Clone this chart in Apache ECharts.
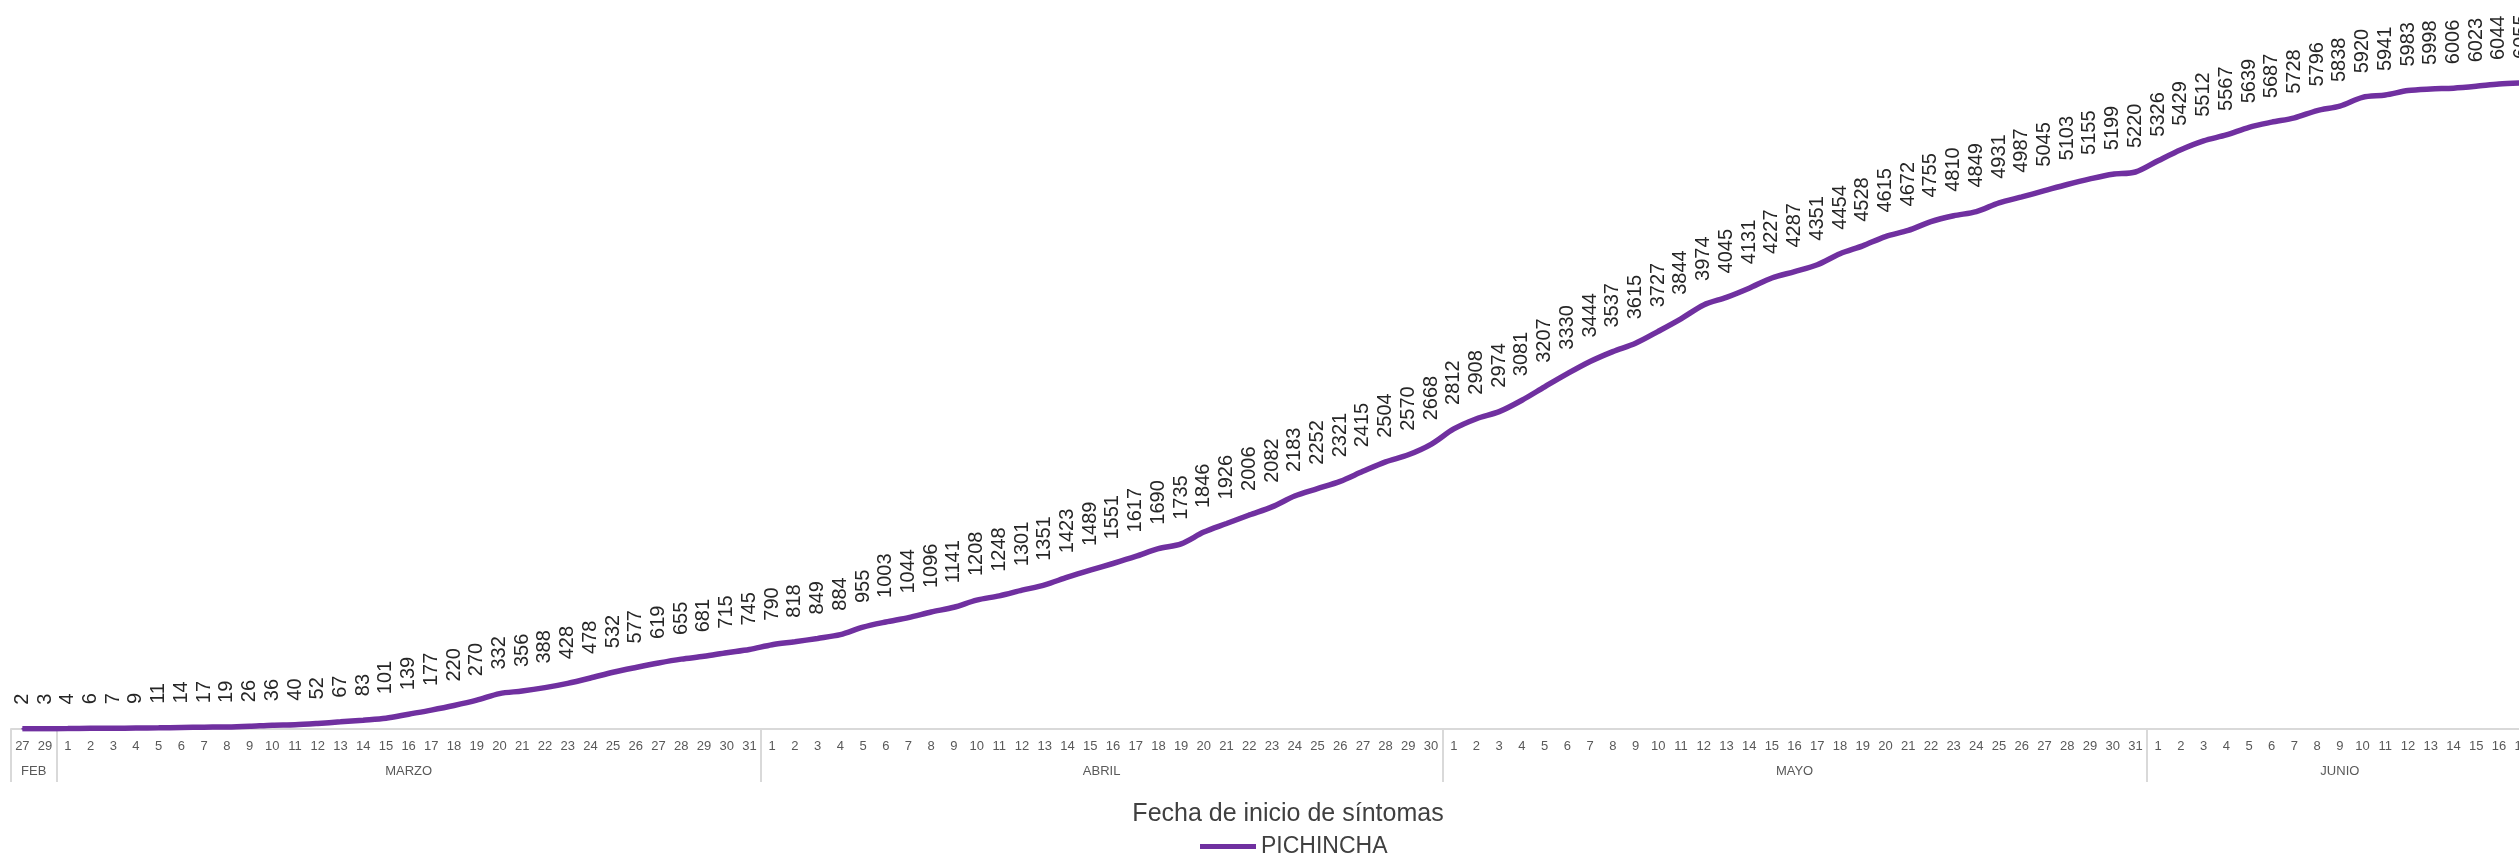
<!DOCTYPE html>
<html>
<head>
<meta charset="utf-8">
<script src="https://cdn.jsdelivr.net/npm/echarts@6/dist/echarts.min.js"></script>
<style>
  html, body { margin: 0; padding: 0; background: #fff; overflow: hidden; }
  #chart { width: 2519px; height: 856px; }
</style>
</head>
<body>
<div id="chart"></div>
<script>
// dias (etiquetas del eje) por mes
var meses = ['FEB', 'MARZO', 'ABRIL', 'MAYO', 'JUNIO'];
var diasFeb = ['27', '29'];
var diasMarzo = ['1','2','3','4','5','6','7','8','9','10','11','12','13','14','15','16','17','18','19','20','21','22','23','24','25','26','27','28','29','30','31'];
var diasAbril = ['1','2','3','4','5','6','7','8','9','10','11','12','13','14','15','16','17','18','19','20','21','22','23','24','25','26','27','28','29','30'];
var diasMayo = ['1','2','3','4','5','6','7','8','9','10','11','12','13','14','15','16','17','18','19','20','21','22','23','24','25','26','27','28','29','30','31'];
var diasJunio = ['1','2','3','4','5','6','7','8','9','10','11','12','13','14','15','16','17'];

// casos acumulados PICHINCHA
var casosFeb = [2, 3];
var casosMarzo = [4, 6, 7, 9, 11, 14, 17, 19, 26, 36, 40, 52, 67, 83, 101, 139, 177, 220, 270, 332, 356, 388, 428, 478, 532, 577, 619, 655, 681, 715, 745];
var casosAbril = [790, 818, 849, 884, 955, 1003, 1044, 1096, 1141, 1208, 1248, 1301, 1351, 1423, 1489, 1551, 1617, 1690, 1735, 1846, 1926, 2006, 2082, 2183, 2252, 2321, 2415, 2504, 2570, 2668];
var casosMayo = [2812, 2908, 2974, 3081, 3207, 3330, 3444, 3537, 3615, 3727, 3844, 3974, 4045, 4131, 4227, 4287, 4351, 4454, 4528, 4615, 4672, 4755, 4810, 4849, 4931, 4987, 5045, 5103, 5155, 5199, 5220];
var casosJunio = [5326, 5429, 5512, 5567, 5639, 5687, 5728, 5796, 5838, 5920, 5941, 5983, 5998, 6006, 6023, 6044, 6055];

var gruposDias = [diasFeb, diasMarzo, diasAbril, diasMayo, diasJunio];
var dias = [].concat(diasFeb, diasMarzo, diasAbril, diasMayo, diasJunio);
var casos = [].concat(casosFeb, casosMarzo, casosAbril, casosMayo, casosJunio);

// limites y centros de cada mes (en unidades de categoria)
var limites = [];
var centros = [];
var acum = 0;
for (var i = 0; i < gruposDias.length; i++) {
    limites.push(acum);
    centros.push(acum + gruposDias[i].length / 2);
    acum += gruposDias[i].length;
}

var chart = echarts.init(document.getElementById('chart'));

var option = {
    animation: false,
    grid: {
        left: 11,
        width: 2522,   // el grafico original sigue mas alla del borde derecho
        top: 0,
        bottom: 127,
        outerBoundsMode: 'none'
    },
    legend: {
        data: ['PICHINCHA'],
        left: 1195,
        top: 830,
        icon: 'rect',
        itemWidth: 56,
        itemHeight: 5,
        itemGap: 5,
        textStyle: {
            fontFamily: 'Liberation Sans',
            fontSize: 23,
            color: '#404040'
        }
    },
    xAxis: [{
        type: 'category',
        data: dias,
        boundaryGap: true,
        name: 'Fecha de inicio de síntomas',
        nameLocation: 'middle',
        nameGap: 73,
        nameTextStyle: {
            fontFamily: 'Liberation Sans',
            fontSize: 25,
            color: '#404040',
            padding: [0, 0, 0, 32]
        },
        axisLine: { lineStyle: { color: '#d9d9d9', width: 2 } },
        axisTick: { show: false },
        axisLabel: {
            interval: 0,
            margin: 11,
            fontFamily: 'Liberation Sans',
            fontSize: 13,
            color: '#595959'
        }
    }, {
        // segundo nivel: meses
        type: 'value',
        min: 0,
        max: dias.length,
        position: 'bottom',
        axisLine: { show: false },
        splitLine: { show: false },
        axisTick: {
            show: true,
            customValues: limites,
            length: 53,
            lineStyle: { color: '#d9d9d9', width: 2 }
        },
        axisLabel: {
            customValues: centros,
            margin: 36,
            fontFamily: 'Liberation Sans',
            fontSize: 13,
            color: '#595959',
            formatter: function (v) {
                var k = centros.indexOf(v);
                return k >= 0 ? meses[k] : '';
            }
        }
    }],
    yAxis: {
        type: 'value',
        show: false,
        min: 0,
        max: 6832
    },
    series: [{
        name: 'PICHINCHA',
        type: 'line',
        data: casos,
        smooth: 0.3,
        symbol: 'circle',
        symbolSize: 2,
        showSymbol: true,
        lineStyle: { color: '#7030a0', width: 5.5 },
        itemStyle: { color: '#7030a0' },
        label: {
            show: true,
            position: 'top',
            distance: 23,
            rotate: 90,
            align: 'left',
            verticalAlign: 'middle',
            fontFamily: 'Liberation Sans',
            fontSize: 20,
            color: '#262626'
        },
        labelLayout: { hideOverlap: false }
    }]
};

chart.setOption(option);
</script>
</body>
</html>
